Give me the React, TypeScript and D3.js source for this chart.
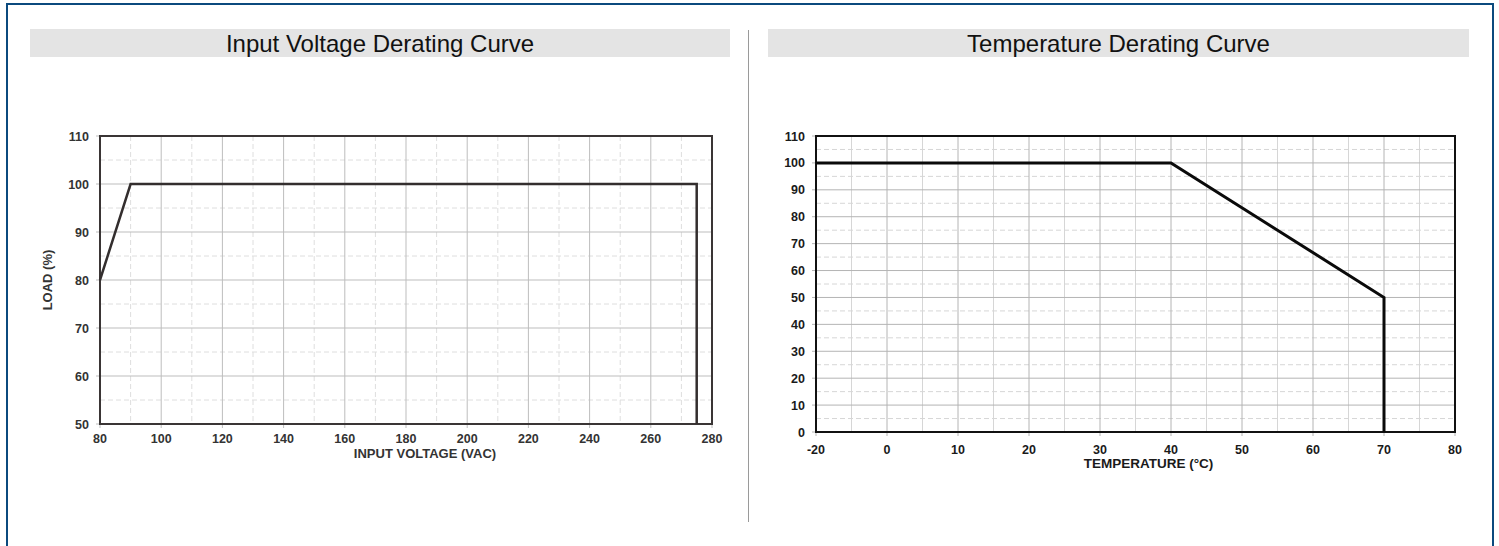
import React, { useEffect, useRef } from 'react'
import * as d3 from 'd3'

// input voltage derating
const voltageX = [80, 90, 275, 275]
const voltageLoad = [80, 100, 100, 50]
const voltageTicks = [80, 100, 120, 140, 160, 180, 200, 220, 240, 260, 280]
const voltageMinorTicks = [90, 110, 130, 150, 170, 190, 210, 230, 250, 270]
const voltageLoadTicks = [50, 60, 70, 80, 90, 100, 110]
const voltageLoadMinor = [55, 65, 75, 85, 95, 105]

// temperature derating
const tempX = [-20, 40, 70, 70]
const tempLoad = [100, 100, 50, 0]
const tempTicks = [-20, 0, 10, 20, 30, 40, 50, 60, 70, 80]
const tempMinorTicks = [-10, 5, 15, 25, 35, 45, 55, 65, 75]
const tempLoadTicks = [0, 10, 20, 30, 40, 50, 60, 70, 80, 90, 100, 110]
const tempLoadMinor = [5, 15, 25, 35, 45, 55, 65, 75, 85, 95, 105]

const FONT = "'Liberation Sans', Arial, sans-serif"

type Cfg = {
  x0: number; x1: number; y0: number; y1: number
  xScale: d3.ScaleLinear<number, number>
  yScale: d3.ScaleLinear<number, number>
  xTicks: number[]; xMinor: number[]; yTicks: number[]; yMinor: number[]
  xs: number[]; ys: number[]
  xTitle: string; yTitle?: string
  frame: string; major: string; minor: string; text: string
  lineColor: string; lineWidth: number; titleSize: number; minorVDash: string | null
  labelDy: number; titleDx: number; titleDy: number
}

function drawChart(g: d3.Selection<SVGGElement, unknown, null, undefined>, c: Cfg) {
  const { x0, x1, y0, y1, xScale, yScale } = c
  // minor grid
  g.selectAll('.mv').data(c.xMinor).enter().append('line')
    .attr('x1', d => xScale(d)).attr('x2', d => xScale(d))
    .attr('y1', y0).attr('y2', y1)
    .attr('stroke', c.minor).attr('stroke-width', 1)
    .attr('stroke-dasharray', c.minorVDash)
  g.selectAll('.mh').data(c.yMinor).enter().append('line')
    .attr('x1', x0).attr('x2', x1)
    .attr('y1', d => yScale(d)).attr('y2', d => yScale(d))
    .attr('stroke', c.minor).attr('stroke-width', 1)
    .attr('stroke-dasharray', '5,3')
  // major grid (with small outside ticks)
  g.selectAll('.gv').data(c.xTicks).enter().append('line')
    .attr('x1', d => xScale(d)).attr('x2', d => xScale(d))
    .attr('y1', y0).attr('y2', y1 + 4)
    .attr('stroke', c.major).attr('stroke-width', 1)
  g.selectAll('.gh').data(c.yTicks).enter().append('line')
    .attr('x1', x0 - 4).attr('x2', x1)
    .attr('y1', d => yScale(d)).attr('y2', d => yScale(d))
    .attr('stroke', c.major).attr('stroke-width', 1)

  // frame
  g.append('rect').attr('x', x0).attr('y', y0)
    .attr('width', x1 - x0).attr('height', y1 - y0)
    .attr('fill', 'none').attr('stroke', c.frame).attr('stroke-width', 2)

  // curve
  const pts = c.xs.map((x, i) => [x, c.ys[i]] as [number, number])
  const line = d3.line<[number, number]>().x(d => xScale(d[0])).y(d => yScale(d[1]))
  g.append('path').attr('d', line(pts))
    .attr('fill', 'none').attr('stroke', c.lineColor)
    .attr('stroke-width', c.lineWidth).attr('stroke-linejoin', 'miter')

  // tick labels
  g.selectAll('.xl').data(c.xTicks).enter().append('text')
    .attr('x', d => xScale(d)).attr('y', y1 + c.labelDy)
    .attr('text-anchor', 'middle')
    .style('font', `bold 12.5px ${FONT}`).attr('fill', c.text)
    .text(d => String(d))
  g.selectAll('.yl').data(c.yTicks).enter().append('text')
    .attr('x', x0 - 11).attr('y', d => yScale(d) + 4.5)
    .attr('text-anchor', 'end')
    .style('font', `bold 12.5px ${FONT}`).attr('fill', c.text)
    .text(d => String(d))

  // axis titles
  g.append('text').attr('x', (x0 + x1) / 2 + c.titleDx).attr('y', y1 + c.titleDy)
    .attr('text-anchor', 'middle')
    .style('font', `bold ${c.titleSize}px ${FONT}`).attr('fill', c.text)
    .text(c.xTitle)
  if (c.yTitle) {
    g.append('text')
      .attr('transform', `translate(${x0 - 48},${(y0 + y1) / 2}) rotate(-90)`)
      .attr('text-anchor', 'middle')
      .style('font', `bold ${c.titleSize}px ${FONT}`).attr('fill', c.text)
      .text(c.yTitle)
  }
}

export default function App() {
  const ref = useRef<SVGSVGElement>(null)

  useEffect(() => {
    const svg = d3.select(ref.current)
    svg.selectAll('*').remove()

    // outer blue border
    svg.append('rect').attr('x', 7).attr('y', 4).attr('width', 1486).attr('height', 560)
      .attr('fill', 'none').attr('stroke', '#0b4a7e').attr('stroke-width', 2)

    // title bars
    const bars = [
      { x: 30, w: 700, title: 'Input Voltage Derating Curve' },
      { x: 768, w: 701, title: 'Temperature Derating Curve' },
    ]
    bars.forEach(b => {
      svg.append('rect').attr('x', b.x).attr('y', 29).attr('width', b.w).attr('height', 28)
        .attr('fill', '#e4e4e4')
      svg.append('text').attr('x', b.x + b.w / 2).attr('y', 51.5)
        .attr('text-anchor', 'middle')
        .style('font', `24px ${FONT}`).attr('fill', '#111')
        .text(b.title)
    })

    // divider
    svg.append('line').attr('x1', 748.5).attr('x2', 748.5).attr('y1', 30).attr('y2', 522)
      .attr('stroke', '#9a9a9a').attr('stroke-width', 1)

    // left chart
    const L = { x0: 100, x1: 712, y0: 136, y1: 424 }
    const lx = d3.scaleLinear().domain([80, 280]).range([L.x0, L.x1])
    const ly = d3.scaleLinear().domain([50, 110]).range([L.y1, L.y0])
    drawChart(svg.append('g'), {
      ...L, xScale: lx, yScale: ly,
      xTicks: voltageTicks, xMinor: voltageMinorTicks,
      yTicks: voltageLoadTicks, yMinor: voltageLoadMinor,
      xs: voltageX, ys: voltageLoad,
      xTitle: 'INPUT VOLTAGE (VAC)', yTitle: 'LOAD (%)',
      frame: '#3a3535', major: '#bdbdbd', minor: '#dedede', text: '#333',
      lineColor: '#332e2e', lineWidth: 2.5, titleSize: 13, minorVDash: '5,3',
      labelDy: 18.5, titleDx: 19, titleDy: 33.5,
    })

    // right chart (the -20..0 interval takes one grid step)
    const R = { x0: 816, x1: 1455, y0: 136, y1: 432 }
    const step = (R.x1 - R.x0) / 9
    const rx = d3.scaleLinear().domain([-20, 0, 80]).range([R.x0, R.x0 + step, R.x1])
    const ry = d3.scaleLinear().domain([0, 110]).range([R.y1, R.y0])
    drawChart(svg.append('g'), {
      ...R, xScale: rx, yScale: ry,
      xTicks: tempTicks, xMinor: tempMinorTicks,
      yTicks: tempLoadTicks, yMinor: tempLoadMinor,
      xs: tempX, ys: tempLoad,
      xTitle: 'TEMPERATURE (°C)',
      frame: '#111', major: '#b4b4b4', minor: '#d6d6d6', text: '#1a1a1a',
      lineColor: '#0a0a0a', lineWidth: 3, titleSize: 13.5, minorVDash: null,
      labelDy: 21.5, titleDx: 13, titleDy: 35.5,
    })
  }, [])

  return (
    <svg ref={ref} width={1499} height={546}
      style={{ position: 'absolute', left: 0, top: 0, background: '#fff' }} />
  )
}
